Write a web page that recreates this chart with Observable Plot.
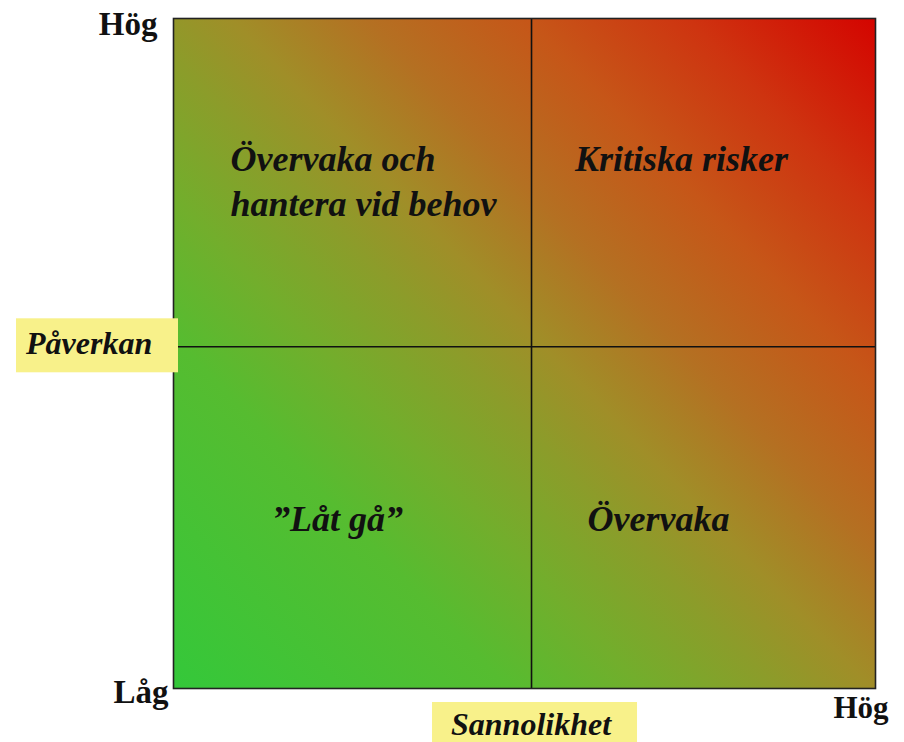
<!DOCTYPE html>
<html><head><meta charset="utf-8">
<script src="https://cdn.jsdelivr.net/npm/d3@7"></script>
<script src="https://cdn.jsdelivr.net/npm/@observablehq/plot@0.6"></script>
<style>html,body{margin:0;padding:0;background:#fff;overflow:hidden}</style>
</head><body><div id="chart"></div>
<script>
// ---- data ----
const levels = ["Låg", "Hög"];
const scoreDomain = [0, 10];
const sannolikhetThreshold = 5.1;
const paverkanThreshold = 5.1;
const quadrantSannolikhet = ["Låg", "Hög", "Låg", "Hög"];
const quadrantPaverkan = ["Hög", "Hög", "Låg", "Låg"];
const quadrantLabels = ["Övervaka och\nhantera vid behov", "Kritiska risker", "”Låt gå”", "Övervaka"];
const xTitle = "Sannolikhet";
const yTitle = "Påverkan";

// ---- styling ----
const gradientStops = [
  [0, "#34c83a"], [0.25, "#56bc30"], [0.35, "#72ae2c"], [0.45, "#8c9c2a"],
  [0.52, "#a08e28"], [0.62, "#b47022"], [0.74, "#c65618"], [0.86, "#ce3410"], [1, "#d40400"]
];
const yellow = "#f8f18a";
const serif = "'Liberation Serif', 'Times New Roman', serif";

const quadrants = quadrantLabels.map((label, i) => ({label, s: quadrantSannolikhet[i], p: quadrantPaverkan[i]}));
const center = (lvl, thr) => lvl === levels[0] ? (scoreDomain[0] + thr) / 2 : (thr + scoreDomain[1]) / 2;

const gradientDefs = (index, scales, values, dims) => {
  const {width, height, marginLeft, marginRight, marginTop, marginBottom} = dims;
  const defs = d3.create("svg:defs");
  const g = defs.append("linearGradient").attr("id", "riskGradient").attr("gradientUnits", "userSpaceOnUse")
    .attr("x1", marginLeft).attr("y1", height - marginBottom)
    .attr("x2", width - marginRight).attr("y2", marginTop);
  gradientStops.forEach(([o, c]) => g.append("stop").attr("offset", o).attr("stop-color", c));
  return defs.node();
};

const yTitleMark = (index, scales, values, dims) => {
  const cy = scales.y(paverkanThreshold);
  const g = d3.create("svg:g");
  g.append("rect").attr("x", 16).attr("y", cy - 28).attr("width", dims.marginLeft + 5 - 16).attr("height", 54).attr("fill", yellow);
  g.append("text").attr("x", 26).attr("y", cy + 8).attr("text-anchor", "start")
    .attr("font-family", serif).attr("font-weight", "bold").attr("font-style", "italic").attr("font-size", 32)
    .attr("fill", "#111").text(yTitle);
  return g.node();
};

const xTitleMark = (index, scales, values, dims) => {
  const cx = scales.x(sannolikhetThreshold);
  const g = d3.create("svg:g");
  g.append("rect").attr("x", cx - 99).attr("y", dims.height - 40).attr("width", 205).attr("height", 50).attr("fill", yellow);
  g.append("text").attr("x", cx).attr("y", dims.height - 7).attr("text-anchor", "middle")
    .attr("font-family", serif).attr("font-weight", "bold").attr("font-style", "italic").attr("font-size", 32)
    .attr("fill", "#111").text(xTitle);
  return g.node();
};

const quadStyle = {fontFamily: serif, fontWeight: "bold", fontStyle: "italic", fontSize: 36, fill: "#111", lineAnchor: "middle", lineHeight: 1.25};
const qText = (i, opts) => Plot.text([quadrants[i]], {
  x: d => center(d.s, sannolikhetThreshold),
  y: d => center(d.p, paverkanThreshold),
  text: "label", ...quadStyle, ...opts
});
const endStyle = {fontFamily: serif, fontWeight: "bold", fill: "#111", lineAnchor: "middle", text: d => d};

const plot = Plot.plot({
  width: 904, height: 742,
  marginLeft: 173, marginRight: 29, marginTop: 18, marginBottom: 54,
  x: {domain: scoreDomain, axis: null},
  y: {domain: scoreDomain, axis: null},
  style: {background: "#fff", overflow: "visible"},
  marks: [
    gradientDefs,
    Plot.rect([scoreDomain], {x1: d => d[0], x2: d => d[1], y1: d => d[0], y2: d => d[1], fill: "url(#riskGradient)"}),
    Plot.ruleX([sannolikhetThreshold], {stroke: "#111", strokeWidth: 1.6}),
    Plot.ruleY([paverkanThreshold], {stroke: "#111", strokeWidth: 1.6}),
    Plot.frame({stroke: "#222", strokeWidth: 1.6}),
    qText(0, {textAnchor: "start", dx: -122, dy: -4}),
    qText(1, {dx: -22, dy: -26}),
    qText(2, {dx: -15, dy: -1}),
    qText(3, {dx: -45, dy: -1}),
    Plot.text([levels[1]], {...endStyle, frameAnchor: "top-left", textAnchor: "end", dx: -16, dy: 6, fontSize: 33}),
    Plot.text([levels[0]], {...endStyle, frameAnchor: "bottom-left", textAnchor: "end", dx: -5, dy: 4, fontSize: 33}),
    Plot.text([levels[1]], {...endStyle, frameAnchor: "bottom-right", textAnchor: "end", dx: 13, dy: 20, fontSize: 31}),
    yTitleMark,
    xTitleMark
  ]
});
document.getElementById("chart").appendChild(plot);
</script>
</body></html>
